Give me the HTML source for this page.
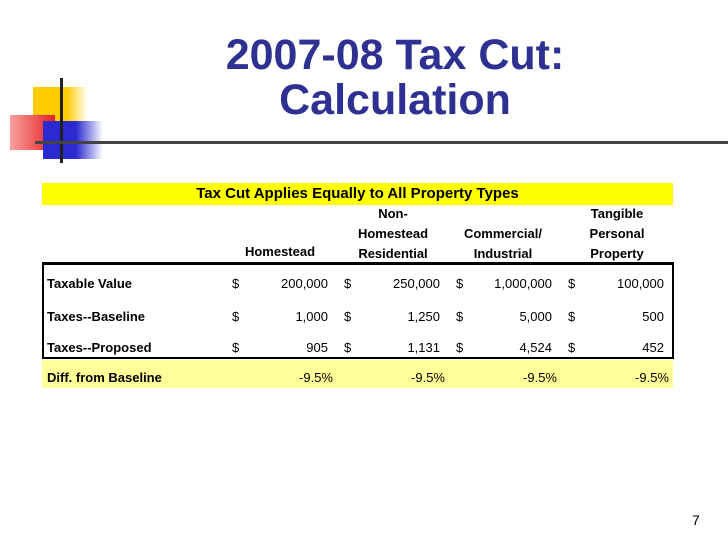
<!DOCTYPE html>
<html><head><meta charset="utf-8"><style>
body{margin:0;width:728px;height:546px;background:#fff;position:relative;overflow:hidden;font-family:"Liberation Sans",Arial,sans-serif}
.a{position:absolute}
.t{font-weight:bold;font-size:13px;color:#000;white-space:nowrap}
.r{text-align:right}
.c{text-align:center}
</style></head><body>
<div class="a" style="left:33px;top:87px;width:55px;height:48px;background:linear-gradient(90deg,#ffcc00 60%,#fff)"></div>
<div class="a" style="left:10px;top:115px;width:45px;height:35px;background:linear-gradient(90deg,#f7a0a0,#e82020)"></div>
<div class="a" style="left:43px;top:121px;width:60px;height:38px;background:linear-gradient(90deg,#2a2ad0 55%,#fff)"></div>
<div class="a" style="left:60px;top:78px;width:3px;height:85px;background:#222"></div>
<div class="a" style="left:35px;top:141px;width:693px;height:3px;background:#444"></div>
<div class="a" style="left:170px;top:33px;width:450px;text-align:center;font-weight:bold;font-size:43px;line-height:45px;color:#2e3192">2007-08 Tax Cut:<br>Calculation</div>

<div class="a t c" style="left:42px;top:183px;width:631px;height:22px;line-height:22px;background:#ffff00;font-size:15px">Tax Cut Applies Equally to All Property Types</div>

<div class="a t c" style="left:225px;top:244px;width:110px">Homestead</div>
<div class="a t c" style="left:338px;top:204px;width:110px;line-height:20px">Non-<br>Homestead<br>Residential</div>
<div class="a t c" style="left:448px;top:224px;width:110px;line-height:20px">Commercial/<br>Industrial</div>
<div class="a t c" style="left:562px;top:204px;width:110px;line-height:20px">Tangible<br>Personal<br>Property</div>

<div class="a" style="left:42px;top:262px;width:628px;height:92px;border:2px solid #000;border-top-width:3px"></div>
<div class="a" style="left:42px;top:360px;width:631px;height:28px;background:#ffff99"></div>

<div id="rows"></div>
<script>
const rowLabels=["Taxable Value","Taxes--Baseline","Taxes--Proposed"];
const rowValues=[["200,000","250,000","1,000,000","100,000"],["1,000","1,250","5,000","500"],["905","1,131","4,524","452"]];
const diffValues=["-9.5%","-9.5%","-9.5%","-9.5%"];
const rowTops=[276,309,340];
const dollarX=[232,344,456,568], valRight=[328,440,552,664];
const root=document.getElementById('rows');
function mk(txt,x,y,w,cls,name){const d=document.createElement('div');d.className='a t '+cls;d.style.left=x+'px';d.style.top=y+'px';if(w)d.style.width=w+'px';d.textContent=txt;


root.appendChild(d);return d;}
rowLabels.forEach((l,i)=>{mk(l,47,rowTops[i],0,'','row-label');
rowValues[i].forEach((v,j)=>{const s=mk('$',dollarX[j],rowTops[i],0,'','dollar-sign');s.style.fontWeight='normal';
const e=mk(v,valRight[j]-90,rowTops[i],90,'r','cell-value');e.style.fontWeight='normal';});});
mk('Diff. from Baseline',47,370,0,'','row-label');
const diffRight=[333,445,557,669];
diffValues.forEach((v,j)=>{const e=mk(v,diffRight[j]-90,370,90,'r','diff-value');e.style.fontWeight='normal';});
</script>
<div class="a" style="left:692px;top:512px;font-size:14px">7</div>
</body></html>
